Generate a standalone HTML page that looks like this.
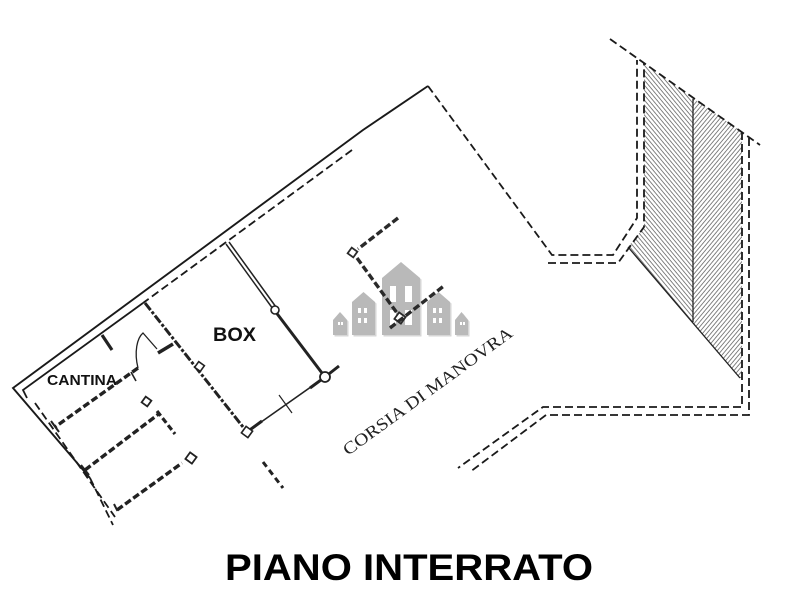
<!DOCTYPE html>
<html><head><meta charset="utf-8">
<style>html,body{margin:0;padding:0;background:#fff}svg{display:block}</style>
</head>
<body>
<svg width="800" height="600" viewBox="0 0 800 600" xmlns="http://www.w3.org/2000/svg">
<defs>
<pattern id="hl" width="3.2" height="3.2" patternUnits="userSpaceOnUse" patternTransform="rotate(-40)">
<line x1="0.5" y1="0" x2="0.5" y2="3.2" stroke="#666" stroke-width="0.8"/>
</pattern>
<pattern id="hr" width="3.2" height="3.2" patternUnits="userSpaceOnUse" patternTransform="rotate(40)">
<line x1="0.5" y1="0" x2="0.5" y2="3.2" stroke="#666" stroke-width="0.8"/>
</pattern>
</defs>
<rect width="800" height="600" fill="#fff"/>

<!-- hatched regions -->
<polygon points="644,63 693,98 693,323 628,247 644,227" fill="url(#hl)"/>
<polygon points="693,98 742,132 742,378 740,378 693,323" fill="url(#hr)"/>
<line x1="693" y1="99" x2="693" y2="322" stroke="#222" stroke-width="1.3"/>
<line x1="628" y1="247" x2="740" y2="378" stroke="#222" stroke-width="1.3"/>

<g fill="none" stroke="#1a1a1a" stroke-width="1.8">
<!-- outer solid wall -->
<polyline points="428,86 363,130 13,388 90,478" stroke-width="1.9"/>
<line x1="90" y1="478" x2="113" y2="525" stroke-dasharray="8 4"/>
<!-- inner wall line -->
<line x1="352" y1="150" x2="143" y2="303" stroke-dasharray="8 4"/>
<polyline points="143,303 23,390 27,398"/>
<line x1="35" y1="403" x2="115" y2="517" stroke-dasharray="8 4"/>

<!-- dashed outline right -->
<polyline points="428,86 552,255 613,255 637,218 637,60" stroke-dasharray="8 4"/>
<polyline points="548,263 618,263 644,227 644,63" stroke-dasharray="8 4"/>
<line x1="610" y1="39" x2="760" y2="145" stroke-dasharray="8 4"/>
<polyline points="742,132 742,407 543,407 458,468" stroke-dasharray="8 4"/>
<polyline points="749,138 749,415 546,415 470,472" stroke-dasharray="8 4"/>
</g>

<!-- cantina -->
<g fill="none" stroke="#222">
<line x1="102" y1="335" x2="112" y2="350" stroke-width="3.2"/>
<path d="M138,368 C134,352 137,338 143,333 L157,349" stroke-width="1.3"/>
<line x1="158" y1="353" x2="173" y2="344" stroke-width="3.5"/>
<line x1="138" y1="368" x2="55" y2="427" stroke-width="3.4" stroke-dasharray="7 3"/>
<line x1="51" y1="421" x2="59" y2="432" stroke-width="2"/>
<line x1="131" y1="372" x2="136" y2="381" stroke-width="1.6"/>
<line x1="85" y1="470" x2="160" y2="413" stroke-width="3.4" stroke-dasharray="7 3"/>
<line x1="81" y1="465" x2="89" y2="475" stroke-width="2"/>
<line x1="157" y1="411" x2="175" y2="434" stroke-width="3.2" stroke-dasharray="6 3"/>
<rect x="143" y="398" width="7" height="7" stroke-width="1.8" transform="rotate(36 146.5 401.5)"/>
<line x1="117" y1="510" x2="182" y2="463" stroke-width="3.4" stroke-dasharray="7 3"/>
<polyline points="114,504 117,510 122,507" stroke-width="2"/>
<rect x="187" y="454" width="8" height="8" stroke-width="1.8" transform="rotate(36 191 458)"/>
</g>

<!-- box -->
<g fill="none" stroke="#222">
<line x1="145" y1="303" x2="247" y2="432" stroke-width="3" stroke-dasharray="9 2 3 2"/>
<rect x="196" y="363" width="7" height="7" stroke-width="1.6" fill="#fff" transform="rotate(36 199.5 366.5)"/>
<line x1="226" y1="244" x2="273" y2="309" stroke-width="1.5"/>
<line x1="229" y1="242" x2="276" y2="307" stroke-width="1.5"/>
<line x1="275" y1="311" x2="325" y2="377" stroke-width="3"/>
<circle cx="275" cy="310" r="4" stroke-width="1.6" fill="#fff"/>
<line x1="325" y1="377" x2="339" y2="366" stroke-width="3"/>
<line x1="325" y1="377" x2="247" y2="432" stroke-width="1.6"/>
<line x1="325" y1="377" x2="310" y2="388" stroke-width="3"/>
<line x1="262" y1="421" x2="247" y2="432" stroke-width="3"/>
<circle cx="325" cy="377" r="5" stroke-width="1.8" fill="#fff"/>
<rect x="243" y="428" width="8" height="8" stroke-width="1.6" fill="#fff" transform="rotate(36 247 432)"/>
<line x1="279" y1="395" x2="292" y2="413" stroke-width="1.2"/>
<line x1="263" y1="462" x2="283" y2="488" stroke-width="3" stroke-dasharray="6 4"/>
</g>

<!-- watermark houses -->
<g fill="#d6d6d6" transform="translate(1.5 1.5)">
<polygon points="382,278 401,262 420,278 420,335 382,335"/>
<polygon points="352,302 363.5,292 375,302 375,335 352,335"/>
<polygon points="427,302 438.5,292 450,302 450,335 427,335"/>
<polygon points="333,320 340,312 347,320 347,335 333,335"/>
<polygon points="455,320 461.5,312 468,320 468,335 455,335"/>
</g>
<g fill="#b9b9b9">
<polygon points="382,278 401,262 420,278 420,335 382,335"/>
<polygon points="352,302 363.5,292 375,302 375,335 352,335"/>
<polygon points="427,302 438.5,292 450,302 450,335 427,335"/>
<polygon points="333,320 340,312 347,320 347,335 333,335"/>
<polygon points="455,320 461.5,312 468,320 468,335 455,335"/>
</g>
<g fill="#fff">
<rect x="390" y="286" width="6" height="16"/><rect x="405" y="286" width="7" height="16"/>
<rect x="390" y="310" width="6" height="15"/><rect x="405" y="310" width="7" height="15"/>
<rect x="358" y="308" width="3" height="5"/><rect x="364" y="308" width="3" height="5"/>
<rect x="358" y="318" width="3" height="5"/><rect x="364" y="318" width="3" height="5"/>
<rect x="433" y="308" width="3" height="5"/><rect x="439" y="308" width="3" height="5"/>
<rect x="433" y="318" width="3" height="5"/><rect x="439" y="318" width="3" height="5"/>
<rect x="338" y="322" width="2" height="3"/><rect x="341" y="322" width="2" height="3"/>
<rect x="460" y="322" width="2" height="3"/><rect x="463" y="322" width="2" height="3"/>
</g>

<!-- stubs in corsia -->
<g fill="none" stroke="#2a2a2a">
<line x1="398" y1="218" x2="358" y2="249" stroke-width="3.4" stroke-dasharray="7 3"/>
<rect x="349" y="249" width="7" height="7" stroke-width="1.8" fill="#fff" transform="rotate(36 352.5 252.5)"/>
<line x1="357" y1="258" x2="397" y2="313" stroke-width="3.4" stroke-dasharray="7 3"/>
<rect x="396" y="314" width="8" height="8" stroke-width="1.8" fill="#fff" transform="rotate(36 400 318)"/>
<line x1="390" y1="328" x2="445" y2="285" stroke-width="3.4" stroke-dasharray="7 3"/>
</g>

<!-- labels -->
<text x="213" y="341" font-family="Liberation Sans, Arial, sans-serif" font-weight="bold" font-size="19.5" textLength="43" lengthAdjust="spacingAndGlyphs" fill="#111">BOX</text>
<text x="47" y="385" font-family="Liberation Sans, Arial, sans-serif" font-weight="bold" font-size="15" textLength="70" lengthAdjust="spacingAndGlyphs" fill="#111">CANTINA</text>
<text x="0" y="0" transform="translate(348 456) rotate(-36)" font-family="Liberation Serif, Times New Roman, serif" font-size="17" textLength="205" lengthAdjust="spacingAndGlyphs" fill="#222">CORSIA DI MANOVRA</text>
<text x="225" y="580" font-family="Liberation Sans, Arial, sans-serif" font-weight="bold" font-size="37.5" textLength="368" lengthAdjust="spacingAndGlyphs" fill="#000">PIANO INTERRATO</text>
</svg>
</body></html>
